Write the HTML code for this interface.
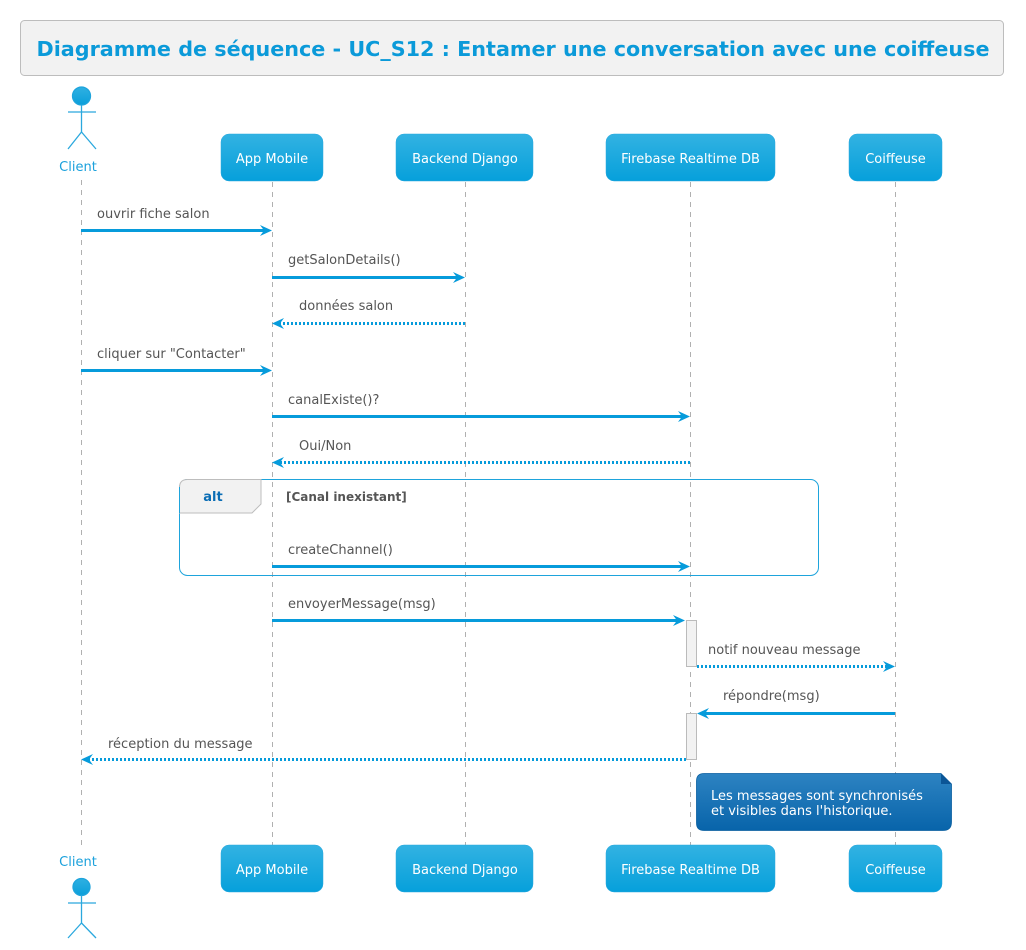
<!DOCTYPE html>
<html><head><meta charset="utf-8"><style>
html,body{margin:0;padding:0;background:#fff;}
svg{display:block;}
text{font-family:"DejaVu Sans","Liberation Sans",sans-serif;}
</style></head><body>
<svg width="1026" height="950" viewBox="0 0 1026 950" xmlns="http://www.w3.org/2000/svg">
<defs>
<linearGradient id="pg" x1="0" y1="0" x2="0" y2="1"><stop offset="0" stop-color="#32b2e2"/><stop offset="1" stop-color="#06a0db"/></linearGradient>
<linearGradient id="ng" x1="0" y1="0" x2="0" y2="1"><stop offset="0" stop-color="#2d83c2"/><stop offset="1" stop-color="#0864aa"/></linearGradient>
<linearGradient id="hg" x1="0" y1="0" x2="0" y2="1"><stop offset="0" stop-color="#2fb0e2"/><stop offset="1" stop-color="#0a9fda"/></linearGradient>
</defs>
<!-- title -->
<rect x="20.5" y="20.5" width="983" height="55" rx="4" fill="#f2f2f2" stroke="#bdbdbd"/>
<text x="513" y="56" text-anchor="middle" font-size="20.7" font-weight="bold" fill="#0b9ad9" textLength="953" lengthAdjust="spacingAndGlyphs">Diagramme de séquence - UC_S12 : Entamer une conversation avec une coiffeuse</text>

<!-- lifelines -->
<g stroke="#b0b0b0" stroke-width="1" stroke-dasharray="5,5">
<line x1="81.5" y1="180" x2="81.5" y2="850"/>
<line x1="272.5" y1="182" x2="272.5" y2="845"/>
<line x1="465.5" y1="182" x2="465.5" y2="845"/>
<line x1="690.5" y1="182" x2="690.5" y2="845"/>
<line x1="895.5" y1="182" x2="895.5" y2="845"/>
</g>

<!-- top actor -->
<g stroke="#2aa8de" stroke-width="1.3" fill="none">
<circle cx="81.5" cy="96" r="9" fill="url(#hg)" stroke="#1ea4dc"/>
<line x1="81.5" y1="105" x2="81.5" y2="132"/>
<line x1="68" y1="112" x2="96" y2="112"/>
<line x1="81.5" y1="132" x2="68" y2="149"/>
<line x1="81.5" y1="132" x2="96" y2="149"/>
</g>
<text x="78" y="171" text-anchor="middle" font-size="13" fill="#1ba1dc">Client</text>

<!-- bottom actor -->
<text x="78" y="866" text-anchor="middle" font-size="13" fill="#1ba1dc">Client</text>
<g stroke="#2aa8de" stroke-width="1.3" fill="none">
<circle cx="81.5" cy="887" r="8.5" fill="url(#hg)" stroke="#1ea4dc"/>
<line x1="81.5" y1="895" x2="81.5" y2="923"/>
<line x1="68" y1="903" x2="96" y2="903"/>
<line x1="81.5" y1="923" x2="68" y2="938"/>
<line x1="81.5" y1="923" x2="96" y2="938"/>
</g>

<!-- participants top -->
<g font-size="13" fill="#fff" text-anchor="middle">
<rect x="221" y="134" width="102" height="47" rx="8" fill="url(#pg)" stroke="#2aa8de" stroke-width="0.5"/>
<text x="272" y="163" fill="#fff">App Mobile</text>
<rect x="396" y="134" width="137" height="47" rx="8" fill="url(#pg)" stroke="#2aa8de" stroke-width="0.5"/>
<text x="465" y="163" fill="#fff">Backend Django</text>
<rect x="606" y="134" width="169" height="47" rx="8" fill="url(#pg)" stroke="#2aa8de" stroke-width="0.5"/>
<text x="690.5" y="163" fill="#fff">Firebase Realtime DB</text>
<rect x="849" y="134" width="93" height="47" rx="8" fill="url(#pg)" stroke="#2aa8de" stroke-width="0.5"/>
<text x="895.5" y="163" fill="#fff">Coiffeuse</text>
<!-- bottom -->
<rect x="221" y="845" width="102" height="47" rx="8" fill="url(#pg)" stroke="#2aa8de" stroke-width="0.5"/>
<text x="272" y="874" fill="#fff">App Mobile</text>
<rect x="396" y="845" width="137" height="47" rx="8" fill="url(#pg)" stroke="#2aa8de" stroke-width="0.5"/>
<text x="465" y="874" fill="#fff">Backend Django</text>
<rect x="606" y="845" width="169" height="47" rx="8" fill="url(#pg)" stroke="#2aa8de" stroke-width="0.5"/>
<text x="690.5" y="874" fill="#fff">Firebase Realtime DB</text>
<rect x="849" y="845" width="93" height="47" rx="8" fill="url(#pg)" stroke="#2aa8de" stroke-width="0.5"/>
<text x="895.5" y="874" fill="#fff">Coiffeuse</text>
</g>

<!-- alt frame -->
<rect x="179.5" y="479.5" width="639" height="96" rx="8" fill="none" stroke="#1ea4dc" stroke-width="1"/>
<path d="M179.5 487.5 Q179.5 479.5 187.5 479.5 L261 479.5 L261 504 L252 513 L179.5 513 Z" fill="#f2f2f2" stroke="#bdbdbd" stroke-width="1"/>
<line x1="179.5" y1="487" x2="179.5" y2="513" stroke="#1ea4dc"/>
<text x="213" y="501" text-anchor="middle" font-size="13" font-weight="bold" fill="#0a6db5">alt</text>
<text x="286" y="501" font-size="12" font-weight="bold" fill="#555">[Canal inexistant]</text>

<!-- activation boxes -->
<rect x="686.5" y="620.5" width="10" height="46" fill="#f2f2f2" stroke="#bbb"/>
<rect x="686.5" y="713.5" width="10" height="46" fill="#f2f2f2" stroke="#bbb"/>

<!-- messages -->
<g font-size="13" fill="#555">
<text x="97" y="218">ouvrir fiche salon</text>
<text x="288" y="264">getSalonDetails()</text>
<text x="299" y="310">données salon</text>
<text x="97" y="358">cliquer sur "Contacter"</text>
<text x="288" y="404">canalExiste()?</text>
<text x="299" y="450">Oui/Non</text>
<text x="288" y="554">createChannel()</text>
<text x="288" y="608">envoyerMessage(msg)</text>
<text x="708" y="654">notif nouveau message</text>
<text x="723" y="700">répondre(msg)</text>
<text x="108" y="748">réception du message</text>
</g>

<g stroke="#069bdb" stroke-width="3" fill="none">
<line x1="81" y1="230.5" x2="268" y2="230.5"/>
<line x1="272" y1="277.5" x2="461" y2="277.5"/>
<line x1="465" y1="323.5" x2="278" y2="323.5" stroke-dasharray="2,2"/>
<line x1="81" y1="370.5" x2="268" y2="370.5"/>
<line x1="272" y1="416.5" x2="686" y2="416.5"/>
<line x1="690" y1="462.5" x2="278" y2="462.5" stroke-dasharray="2,2"/>
<line x1="272" y1="566.5" x2="686" y2="566.5"/>
<line x1="272" y1="620.5" x2="681" y2="620.5"/>
<line x1="697" y1="666.5" x2="889" y2="666.5" stroke-dasharray="2,2"/>
<line x1="895" y1="713.5" x2="702" y2="713.5"/>
<line x1="686" y1="759.5" x2="87" y2="759.5" stroke-dasharray="2,2"/>
</g>
<g fill="#069bdb">
<polygon points="272,230.5 260,225 264,230.5 260,236"/>
<polygon points="465,277.5 453,272 457,277.5 453,283"/>
<polygon points="272,323.5 284,318 280,323.5 284,329"/>
<polygon points="272,370.5 260,365 264,370.5 260,376"/>
<polygon points="690,416.5 678,411 682,416.5 678,422"/>
<polygon points="272,462.5 284,457 280,462.5 284,468"/>
<polygon points="690,566.5 678,561 682,566.5 678,572"/>
<polygon points="685,620.5 673,615 677,620.5 673,626"/>
<polygon points="895,666.5 883,661 887,666.5 883,672"/>
<polygon points="697,713.5 709,708 705,713.5 709,719"/>
<polygon points="81,759.5 93,754 89,759.5 93,765"/>
</g>

<!-- note -->
<path d="M704 773.5 L941 773.5 L951.5 784 L951.5 822 Q951.5 830.5 943 830.5 L704 830.5 Q696.5 830.5 696.5 823 L696.5 781 Q696.5 773.5 704 773.5 Z" fill="url(#ng)" stroke="#0a5fa0" stroke-width="0.8"/>
<path d="M941 773.5 L941 784 L951.5 784 Z" fill="#0b5596"/>
<text x="711" y="800" font-size="13" fill="#fff">Les messages sont synchronisés</text>
<text x="711" y="815" font-size="13" fill="#fff">et visibles dans l'historique.</text>
</svg>
</body></html>
